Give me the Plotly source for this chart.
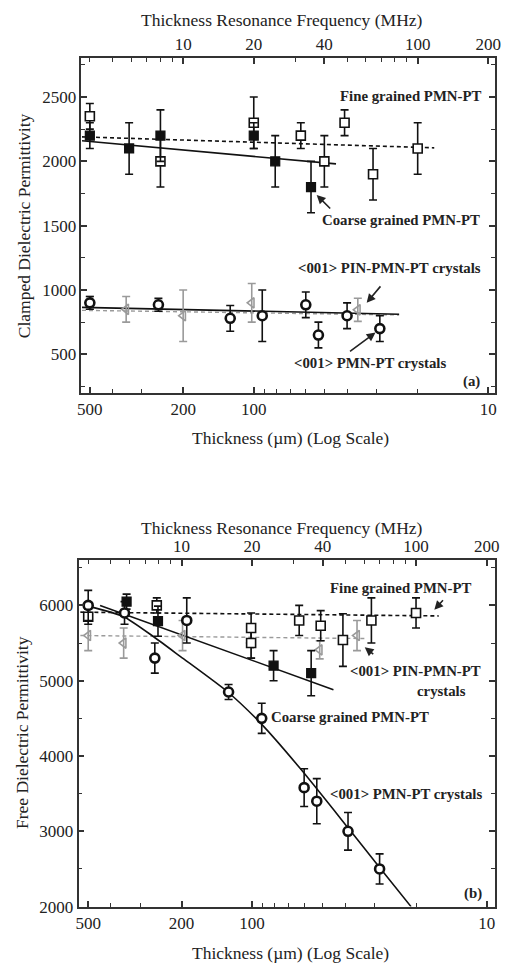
import numpy as np
import plotly.graph_objects as go

W, H = 507, 977

# ---------------- Panel (a): clamped permittivity ----------------
fine_a_t = [500, 250, 100, 63, 50, 41, 31, 20]
fine_a_y = [2350, 2000, 2300, 2200, 2000, 2300, 1900, 2100]
fine_a_err = [100, 200, 200, 100, 200, 100, 200, 200]

coarse_a_t = [500, 340, 250, 100, 81, 57]
coarse_a_y = [2200, 2100, 2200, 2200, 2000, 1800]
coarse_a_err = [100, 200, 200, 100, 200, 200]

pmn_a_t = [500, 255, 126, 92, 60, 53, 40, 29]
pmn_a_y = [900, 885, 780, 800, 885, 650, 800, 700]
pmn_a_err = [50, 50, 100, 200, 100, 100, 100, 100]

pin_a_t = [500, 350, 200, 102, 36]
pin_a_y = [900, 850, 800, 900, 846]
pin_a_err = [50, 100, 200, 150, 90]

fit_fine_a_t, fit_fine_a_y = [540, 17], [2190, 2105]
fit_coarse_a_t, fit_coarse_a_y = [540, 44.6], [2160, 1980]
fit_pmn_a_t, fit_pmn_a_y = [540, 24], [865, 812]
fit_pin_a_t, fit_pin_a_y = [540, 24], [842, 806]

# ---------------- Panel (b): free permittivity ----------------
fine_b_t = [500, 255, 101, 101, 63, 51, 41, 31, 20]
fine_b_y = [5850, 6000, 5700, 5500, 5800, 5730, 5540, 5800, 5900]
fine_b_err = [100, 100, 200, 200, 200, 200, 350, 300, 200]

coarse_b_t = [343, 252, 81, 56]
coarse_b_y = [6050, 5790, 5200, 5100]
coarse_b_err = [100, 200, 200, 300]

pmn_b_t = [500, 350, 260, 190, 126, 91, 60, 53, 39, 28.6]
pmn_b_y = [6000, 5900, 5300, 5800, 4850, 4500, 3580, 3400, 3000, 2500]
pmn_b_err = [200, 150, 200, 300, 100, 200, 250, 300, 250, 200]

pin_b_t = [500, 353, 198, 101, 51.5, 35.7]
pin_b_y = [5600, 5500, 5600, 5500, 5410, 5600]
pin_b_err = [200, 200, 200, 200, 120, 200]

fit_fine_b_t, fit_fine_b_y = [540, 16], [5910, 5860]
fit_pin_b_t, fit_pin_b_y = [540, 33], [5600, 5560]
fit_coarse_b_t, fit_coarse_b_y = [445, 45], [6000, 4880]
fit_pmn_b_t = [530, 353, 262, 202, 127, 91, 61.8, 39.3, 28.6, 21.0]
fit_pmn_b_y = [6010, 5850, 5580, 5320, 4850, 4420, 3820, 3060, 2520, 2000]

x_major = [500, 200, 100, 10]
x_minor = [400, 300, 90, 80, 70, 60, 50, 40, 30, 20]
f_major = [10, 20, 40, 100, 200]
f_minor = [4, 5, 6, 7, 8, 9, 30, 50, 60, 70, 80, 90]

GREY = "#9a9a9a"
BLACK = "#111111"
FONT = "Liberation Serif"
DASH = "4px,3px"

fig = go.Figure()


def errs(t, y, e, xa, ya, symbol, color, size, lw, fill=None):
    fig.add_trace(go.Scatter(
        x=t, y=y, xaxis=xa, yaxis=ya, mode="markers",
        marker=dict(symbol=symbol, size=size, color=fill if fill else color,
                    line=dict(color=color, width=lw)),
        error_y=dict(type="data", array=e, visible=True, color=color,
                     thickness=1.6, width=4),
        showlegend=False, cliponaxis=False))


def line(t, y, xa, ya, color, dash, width=1.6, shape="linear"):
    fig.add_trace(go.Scatter(
        x=t, y=y, xaxis=xa, yaxis=ya, mode="lines",
        line=dict(color=color, dash=dash, width=width, shape=shape, smoothing=0.6),
        showlegend=False))


# panel a
line(fit_pin_a_t, fit_pin_a_y, "x", "y", GREY, DASH, 1.4)
line(fit_pmn_a_t, fit_pmn_a_y, "x", "y", BLACK, "solid")
line(fit_fine_a_t, fit_fine_a_y, "x", "y", BLACK, DASH)
line(fit_coarse_a_t, fit_coarse_a_y, "x", "y", BLACK, "solid")
errs(pin_a_t, pin_a_y, pin_a_err, "x", "y", "triangle-left-open", GREY, 9, 1.6)
errs(pmn_a_t, pmn_a_y, pmn_a_err, "x", "y", "circle", BLACK, 9, 2.6, "white")
errs(fine_a_t, fine_a_y, fine_a_err, "x", "y", "square", BLACK, 9, 1.6, "white")
errs(coarse_a_t, coarse_a_y, coarse_a_err, "x", "y", "square", BLACK, 9, 1.2)

# panel b
line(fit_pin_b_t, fit_pin_b_y, "x3", "y2", GREY, DASH, 1.4)
line(fit_fine_b_t, fit_fine_b_y, "x3", "y2", BLACK, DASH)
line(fit_coarse_b_t, fit_coarse_b_y, "x3", "y2", BLACK, "solid")
line(fit_pmn_b_t, fit_pmn_b_y, "x3", "y2", BLACK, "solid", shape="spline")
errs(pin_b_t, pin_b_y, pin_b_err, "x3", "y2", "triangle-left-open", GREY, 9, 1.6)
errs(fine_b_t, fine_b_y, fine_b_err, "x3", "y2", "square", BLACK, 9, 1.6, "white")
errs(coarse_b_t, coarse_b_y, coarse_b_err, "x3", "y2", "square", BLACK, 9, 1.2)
errs(pmn_b_t, pmn_b_y, pmn_b_err, "x3", "y2", "circle", BLACK, 9, 2.6, "white")

# dummy traces so the top (frequency) axes exist
fig.add_trace(go.Scatter(x=[None], y=[None], xaxis="x2", yaxis="y", showlegend=False))
fig.add_trace(go.Scatter(x=[None], y=[None], xaxis="x4", yaxis="y2", showlegend=False))


def X(px):
    return px / W


def Y(py):
    return 1 - py / H


tickfont = dict(family=FONT, size=17, color="#222")
common = dict(showline=True, linecolor="#333", linewidth=1.8, ticks="inside",
              ticklen=6, tickwidth=1.5, tickcolor="#333", showgrid=False,
              zeroline=False, tickfont=tickfont)

dom_a = [X(79), X(501)]
dom_b = [X(76), X(501)]


def minor_arr(vals):
    return dict(tickmode="array", tickvals=vals, ticklen=4, ticks="inside",
                tickcolor="#333", tickwidth=1.3)


fig.update_layout(
    width=W, height=H, margin=dict(l=0, r=0, t=0, b=0),
    paper_bgcolor="white", plot_bgcolor="white",
    xaxis=dict(type="log", domain=dom_a, anchor="y",
               range=[np.log10(543), np.log10(9.35)],
               tickmode="array", tickvals=x_major, ticktext=[str(v) for v in x_major],
               minor=minor_arr(x_minor), **common),
    xaxis2=dict(type="log", overlaying="x", side="top", anchor="y",
                range=[np.log10(2000 / 543), np.log10(2000 / 9.35)],
                tickmode="array", tickvals=f_major, ticktext=[str(v) for v in f_major],
                minor=minor_arr(f_minor), **common),
    yaxis=dict(domain=[Y(397), Y(59)], anchor="x", range=[200, 2800],
               tickmode="array", tickvals=[500, 1000, 1500, 2000, 2500],
               minor=dict(dtick=250, tick0=0, ticklen=4, ticks="inside",
                          tickcolor="#333", tickwidth=1.3),
               mirror="ticks", **common),
    xaxis3=dict(type="log", domain=dom_b, anchor="y2",
                range=[np.log10(550), np.log10(9.2)],
                tickmode="array", tickvals=x_major, ticktext=[str(v) for v in x_major],
                minor=minor_arr(x_minor), **common),
    xaxis4=dict(type="log", overlaying="x3", side="top", anchor="y2",
                range=[np.log10(2000 / 550), np.log10(2000 / 9.2)],
                tickmode="array", tickvals=f_major, ticktext=[str(v) for v in f_major],
                minor=minor_arr(f_minor), **common),
    yaxis2=dict(domain=[Y(916), Y(566)], anchor="x3", range=[2000, 6600],
                tickmode="array", tickvals=[2000, 3000, 4000, 5000, 6000],
                minor=dict(dtick=500, tick0=0, ticklen=4, ticks="inside",
                           tickcolor="#333", tickwidth=1.3),
                mirror="ticks", **common),
)

ann = []


def text(s, px, py, size=17.5, bold=False, angle=0, xanchor="center"):
    ann.append(dict(text=f"<b>{s}</b>" if bold else s, x=X(px), y=Y(py),
                    xref="paper", yref="paper", showarrow=False, textangle=angle,
                    xanchor=xanchor, yanchor="middle",
                    font=dict(family=FONT, size=size, color="#222")))


def arrow(tipx, tipy, tailx, taily):
    ann.append(dict(text="", x=X(tipx), y=Y(tipy), xref="paper", yref="paper",
                    ax=tailx - tipx, ay=taily - tipy, showarrow=True,
                    arrowhead=2, arrowsize=1.1, arrowwidth=1.6, arrowcolor="#222"))


BS = 14.8
# axis titles
text("Thickness Resonance Frequency (MHz)", 284, 20)
text("Thickness Resonance Frequency (MHz)", 284, 533)
text("Thickness (\u00b5m) (Log Scale)", 292, 443)
text("Thickness (\u00b5m) (Log Scale)", 292, 963)
text("Clamped Dielectric Permittivity", 20, 228, angle=-90)
text("Free Dielectric Permittivity", 19, 740, angle=-90)

# panel a labels
text("Fine grained PMN-PT", 490, 97, BS, True, xanchor="right")
text("Coarse grained PMN-PT", 488, 222, BS, True, xanchor="right")
text("&lt;001&gt; PIN-PMN-PT crystals", 489, 271, BS, True, xanchor="right")
text("&lt;001&gt; PMN-PT crystals", 453, 367, BS, True, xanchor="right")
text("(a)", 477, 385, BS, True)
arrow(319, 197, 334, 212)
arrow(370, 306, 385, 288)
arrow(379, 336, 352, 356)

# panel b labels
text("Fine grained PMN-PT", 479, 594, BS, True, xanchor="right")
text("&lt;001&gt; PIN-PMN-PT", 489, 678, BS, True, xanchor="right")
text("crystals", 446, 698, BS, True)
text("Coarse grained PMN-PT", 436, 724, BS, True, xanchor="right")
text("&lt;001&gt; PMN-PT crystals", 331, 802, BS, True, xanchor="left")
text("(b)", 478, 903, BS, True)
arrow(439, 616, 449, 605)
arrow(368, 654, 378, 662)

fig.update_layout(annotations=ann)
fig.write_html("out.html")
